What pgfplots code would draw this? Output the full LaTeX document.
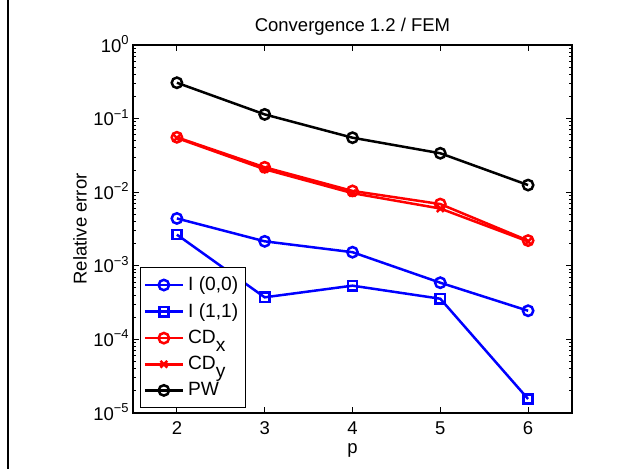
\documentclass[border=0pt]{standalone}
\usepackage{fontspec}
\setmainfont{Liberation Sans}
\usepackage{pgfplots}
\pgfplotsset{compat=1.18}
\begin{document}
\fontsize{9.25}{11}\selectfont
\begin{tikzpicture}
\useasboundingbox (-66.5pt,-28pt) rectangle (248pt,206.5pt);
% frame edge on the left
\draw[line width=1pt] (-62.35pt,-28pt) -- (-62.35pt,206.5pt);
\begin{axis}[
    at={(0pt,0pt)}, anchor=south west,
    scale only axis, width=219.5pt, height=184pt,
    ymode=log,
    xmin=1.5, xmax=6.5, ymin=1e-5, ymax=1,
    xtick={2,3,4,5,6},
    ytick={1e-5,1e-4,1e-3,1e-2,1e-1,1},
    yticklabels={10\textsuperscript{−5},10\textsuperscript{−4},10\textsuperscript{−3},10\textsuperscript{−2},10\textsuperscript{−1},10\textsuperscript{0}},
    /pgf/number format/assume math mode=true,
    tick align=inside,
    major tick length=3pt, minor tick length=1.6pt,
    every tick/.style={black, line width=0.5pt},
    axis line style={line width=0.8pt},
    xticklabel style={anchor=base, yshift=-11pt},
    yticklabel style={anchor=base east, inner sep=0pt, xshift=-1.5pt, yshift=-3.6pt},
    title={Convergence 1.2 / FEM},
    every axis title/.style={at={(axis description cs:0.5,1.036)}, anchor=base},
    xlabel={p},
    every axis x label/.style={at={(axis description cs:0.5,-0.1095)}, anchor=base},
    ylabel={Relative error},
    every axis y label/.style={at={(axis description cs:-0.1057,0.5)}, rotate=90, anchor=base},
    every axis plot/.append style={line width=1.25pt},
    legend image code/.code={\draw[mark repeat=2,mark phase=2] plot coordinates {(0pt,0pt) (9.5pt,0pt) (19pt,0pt)};},
    legend style={at={(axis description cs:0.016,0.0136)}, anchor=south west,
        draw=black, line width=0.6pt, fill=white, inner xsep=1.5pt, inner ysep=2.5pt,
        row sep=1pt, cells={anchor=west}, font=\fontsize{9.6}{11}\selectfont},
]
\addplot[blue, mark=o, mark size=2.6pt] coordinates {
    (2,0.0044) (3,0.00215) (4,0.00153) (5,0.000589) (6,0.000245)
};
\addlegendentry{I (0,0)}
\addplot[blue, mark=square, mark size=2.3pt] coordinates {
    (2,0.00265) (3,0.000373) (4,0.000537) (5,0.000357) (6,1.55e-5)
};
\addlegendentry{I (1,1)}
\addplot[red, mark=o, mark size=2.6pt] coordinates {
    (2,0.0557) (3,0.0218) (4,0.0104) (5,0.0069) (6,0.0022)
};
\addlegendentry{CD\raisebox{-0.4em}{x}}
\addplot[red, mark=x, mark size=2.4pt] coordinates {
    (2,0.0545) (3,0.0205) (4,0.0097) (5,0.0060) (6,0.00214)
};
\addlegendentry{CD\raisebox{-0.4em}{y}}
\addplot[black, mark=o, mark size=2.6pt] coordinates {
    (2,0.307) (3,0.114) (4,0.055) (5,0.0338) (6,0.0125)
};
\addlegendentry{PW}
\end{axis}
\end{tikzpicture}
\end{document}
